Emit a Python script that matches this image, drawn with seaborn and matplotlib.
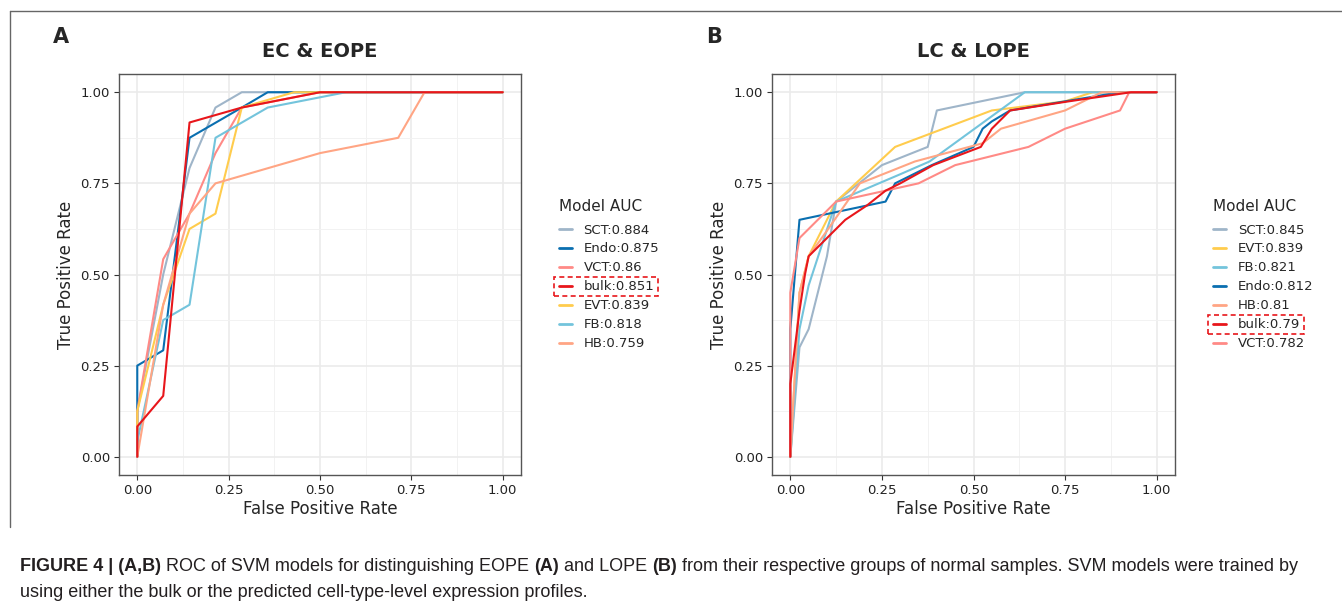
import matplotlib
matplotlib.use("Agg")
import matplotlib.pyplot as plt
import seaborn as sns
import pandas as pd
from matplotlib.lines import Line2D
from matplotlib.patches import Rectangle
from matplotlib.ticker import MultipleLocator

# ---- panel A: EC & EOPE ----
a_names = ["SCT:0.884", "Endo:0.875", "VCT:0.86", "bulk:0.851", "EVT:0.839", "FB:0.818", "HB:0.759"]
a_fpr = {
    "SCT:0.884": [0, 0, 0.071, 0.143, 0.214, 0.286, 1],
    "Endo:0.875": [0, 0, 0, 0.071, 0.143, 0.286, 0.357, 1],
    "VCT:0.86": [0, 0, 0.071, 0.143, 0.214, 0.286, 0.5, 1],
    "bulk:0.851": [0, 0, 0.071, 0.143, 0.286, 0.5, 1],
    "EVT:0.839": [0, 0, 0.071, 0.143, 0.214, 0.286, 0.429, 1],
    "FB:0.818": [0, 0, 0.071, 0.143, 0.214, 0.357, 0.571, 1],
    "HB:0.759": [0, 0.071, 0.143, 0.214, 0.5, 0.714, 0.786, 1],
}
a_tpr = {
    "SCT:0.884": [0, 0.125, 0.5, 0.792, 0.958, 1, 1],
    "Endo:0.875": [0, 0.167, 0.25, 0.292, 0.875, 0.958, 1, 1],
    "VCT:0.86": [0, 0.125, 0.542, 0.667, 0.833, 0.958, 1, 1],
    "bulk:0.851": [0, 0.083, 0.167, 0.917, 0.958, 1, 1],
    "EVT:0.839": [0, 0.125, 0.417, 0.625, 0.667, 0.958, 1, 1],
    "FB:0.818": [0, 0.042, 0.375, 0.417, 0.875, 0.958, 1, 1],
    "HB:0.759": [0, 0.417, 0.667, 0.75, 0.833, 0.875, 1, 1],
}

# ---- panel B: LC & LOPE ----
b_names = ["SCT:0.845", "EVT:0.839", "FB:0.821", "Endo:0.812", "HB:0.81", "bulk:0.79", "VCT:0.782"]
b_fpr = {
    "SCT:0.845": [0, 0.025, 0.05, 0.1, 0.125, 0.25, 0.375, 0.4, 0.64, 1],
    "EVT:0.839": [0, 0.025, 0.05, 0.125, 0.286, 0.55, 0.75, 0.825, 1],
    "FB:0.821": [0, 0.025, 0.05, 0.125, 0.3, 0.38, 0.64, 1],
    "Endo:0.812": [0, 0, 0.025, 0.26, 0.286, 0.386, 0.5, 0.525, 0.55, 0.6, 0.9, 1],
    "HB:0.81": [0, 0.025, 0.05, 0.1, 0.19, 0.34, 0.525, 0.575, 0.75, 0.85, 1],
    "bulk:0.79": [0, 0, 0.025, 0.04, 0.05, 0.15, 0.21, 0.26, 0.3, 0.39, 0.52, 0.55, 0.6, 0.76, 0.93, 1],
    "VCT:0.782": [0, 0, 0.025, 0.125, 0.35, 0.45, 0.65, 0.75, 0.9, 0.925, 1],
}
b_tpr = {
    "SCT:0.845": [0, 0.3, 0.35, 0.55, 0.7, 0.8, 0.85, 0.95, 1, 1],
    "EVT:0.839": [0, 0.45, 0.55, 0.7, 0.85, 0.95, 0.975, 1, 1],
    "FB:0.821": [0, 0.35, 0.47, 0.7, 0.775, 0.81, 1, 1],
    "Endo:0.812": [0, 0.35, 0.65, 0.7, 0.75, 0.8, 0.85, 0.9, 0.92, 0.95, 1, 1],
    "HB:0.81": [0, 0.45, 0.55, 0.62, 0.75, 0.81, 0.86, 0.9, 0.95, 1, 1],
    "bulk:0.79": [0, 0.2, 0.4, 0.5, 0.55, 0.65, 0.69, 0.73, 0.75, 0.8, 0.85, 0.9, 0.95, 0.975, 1, 1],
    "VCT:0.782": [0, 0.45, 0.6, 0.7, 0.75, 0.8, 0.85, 0.9, 0.95, 1, 1],
}

cell_colors = {"SCT": "#9FB5C9", "Endo": "#0A6FB0", "VCT": "#FF8A86", "bulk": "#E8161B",
               "EVT": "#FFCC4D", "FB": "#73C4DC", "HB": "#FFA584"}

W, H = 1342, 608
fig = plt.figure(figsize=(W / 100, H / 100), dpi=100)
sns.set_style("white")
plt.rcParams["font.family"] = ["DejaVu Sans"]


def to_long(names, fpr, tpr):
    rows = []
    for n in names:
        for i, (x, y) in enumerate(zip(fpr[n], tpr[n])):
            rows.append({"model": n, "fpr": x, "tpr": y, "step": i})
    return pd.DataFrame(rows)


def roc_panel(rect, names, fpr, tpr, title, letter):
    l, r, t, b = rect
    ax = fig.add_axes([l / W, 1 - b / H, (r - l) / W, (b - t) / H])
    df = to_long(names, fpr, tpr)
    pal = {n: cell_colors[n.split(":")[0]] for n in names}
    # draw bulk last so it sits on top
    order = [n for n in names if not n.startswith("bulk")] + [n for n in names if n.startswith("bulk")]
    for n in order:
        sub = df[df["model"] == n]
        sns.lineplot(data=sub, x="fpr", y="tpr", color=pal[n], sort=False, estimator=None,
                     lw=1.5, ax=ax, label=n)
    ax.set_xlim(-0.05, 1.05)
    ax.set_ylim(-0.05, 1.05)
    ax.xaxis.set_major_locator(MultipleLocator(0.25))
    ax.yaxis.set_major_locator(MultipleLocator(0.25))
    ax.xaxis.set_minor_locator(MultipleLocator(0.125))
    ax.yaxis.set_minor_locator(MultipleLocator(0.125))
    ax.xaxis.set_major_formatter(lambda v, p: f"{v:.2f}")
    ax.yaxis.set_major_formatter(lambda v, p: f"{v:.2f}")
    ax.grid(True, which="major", color="#EBEBEB", lw=1.2, zorder=0)
    ax.grid(True, which="minor", color="#F2F2F2", lw=0.7, zorder=0)
    ax.set_axisbelow(True)
    for s in ax.spines.values():
        s.set_color("#555555")
        s.set_linewidth(1.0)
    ax.tick_params(which="major", direction="out", length=3.5, width=0.8, color="#333333",
                   labelsize=9.5, labelcolor="#222222", pad=3, bottom=True, left=True)
    ax.tick_params(which="minor", length=0)
    ax.set_xlabel("False Positive Rate", fontsize=12, labelpad=2)
    ax.set_ylabel("True Positive Rate", fontsize=12, labelpad=4)
    ax.set_title(title, fontsize=14, fontweight="bold", pad=12)
    fig.text((l - 66) / W, 1 - 37 / H, letter, fontsize=15, fontweight="bold", va="center", ha="left")

    handles, labels = ax.get_legend_handles_labels()
    lookup = dict(zip(labels, handles))
    leg = ax.legend([lookup[n] for n in names], names, title="Model AUC", loc="center left",
                    bbox_to_anchor=(1.077, 0.50), frameon=False, fontsize=9.5, title_fontsize=11,
                    handlelength=1.0, handletextpad=0.9, labelspacing=0.45, borderpad=0,
                    alignment="left")
    leg._legend_box.sep = 7
    for h in leg.legend_handles:
        h.set_linewidth(2.0)
    return ax, leg


ax_a, leg_a = roc_panel((119, 521, 74, 475), a_names, a_fpr, a_tpr, "EC & EOPE", "A")
ax_b, leg_b = roc_panel((772, 1175, 74, 475), b_names, b_fpr, b_tpr, "LC & LOPE", "B")

# outer frame
fig.add_artist(Line2D([10 / W, 1], [1 - 11 / H, 1 - 11 / H], color="#666666", lw=1.0))
fig.add_artist(Line2D([10 / W, 10 / W], [1 - 11 / H, 1 - 527 / H], color="#666666", lw=1.0))

fig.canvas.draw()
rend = fig.canvas.get_renderer()

# red dashed box around the bulk legend entry
for leg in (leg_a, leg_b):
    for txt, h in zip(leg.get_texts(), leg.legend_handles):
        if txt.get_text().startswith("bulk"):
            tb = txt.get_window_extent(rend)
            hb = h.get_window_extent(rend)
            x0, x1 = hb.x0 - 5, tb.x1 + 4
            y0, y1 = tb.y0 - 3, tb.y1 + 3
            fig.add_artist(Rectangle((x0 / W, y0 / H), (x1 - x0) / W, (y1 - y0) / H,
                                     fill=False, ec="#E8161B", lw=1.2, ls=(0, (3, 2))))

# caption with mixed bold pieces
cap1 = [("FIGURE 4 | (A,B)", "bold"), (" ROC of SVM models for distinguishing EOPE ", "normal"),
        ("(A)", "bold"), (" and LOPE ", "normal"), ("(B)", "bold"),
        (" from their respective groups of normal samples. SVM models were trained by", "normal")]
cap2 = [("using either the bulk or the predicted cell-type-level expression profiles.", "normal")]


def draw_pieces(pieces, x, y, size):
    for s, w in pieces:
        t = fig.text(x / W, 1 - y / H, s, fontsize=size, fontweight=w, va="baseline", ha="left",
                     family="Liberation Sans", color="#231F20")
        x += t.get_window_extent(rend).width


draw_pieces(cap1, 20, 571, 13)
draw_pieces(cap2, 20, 597, 13)

fig.savefig("out.png", dpi=100)
